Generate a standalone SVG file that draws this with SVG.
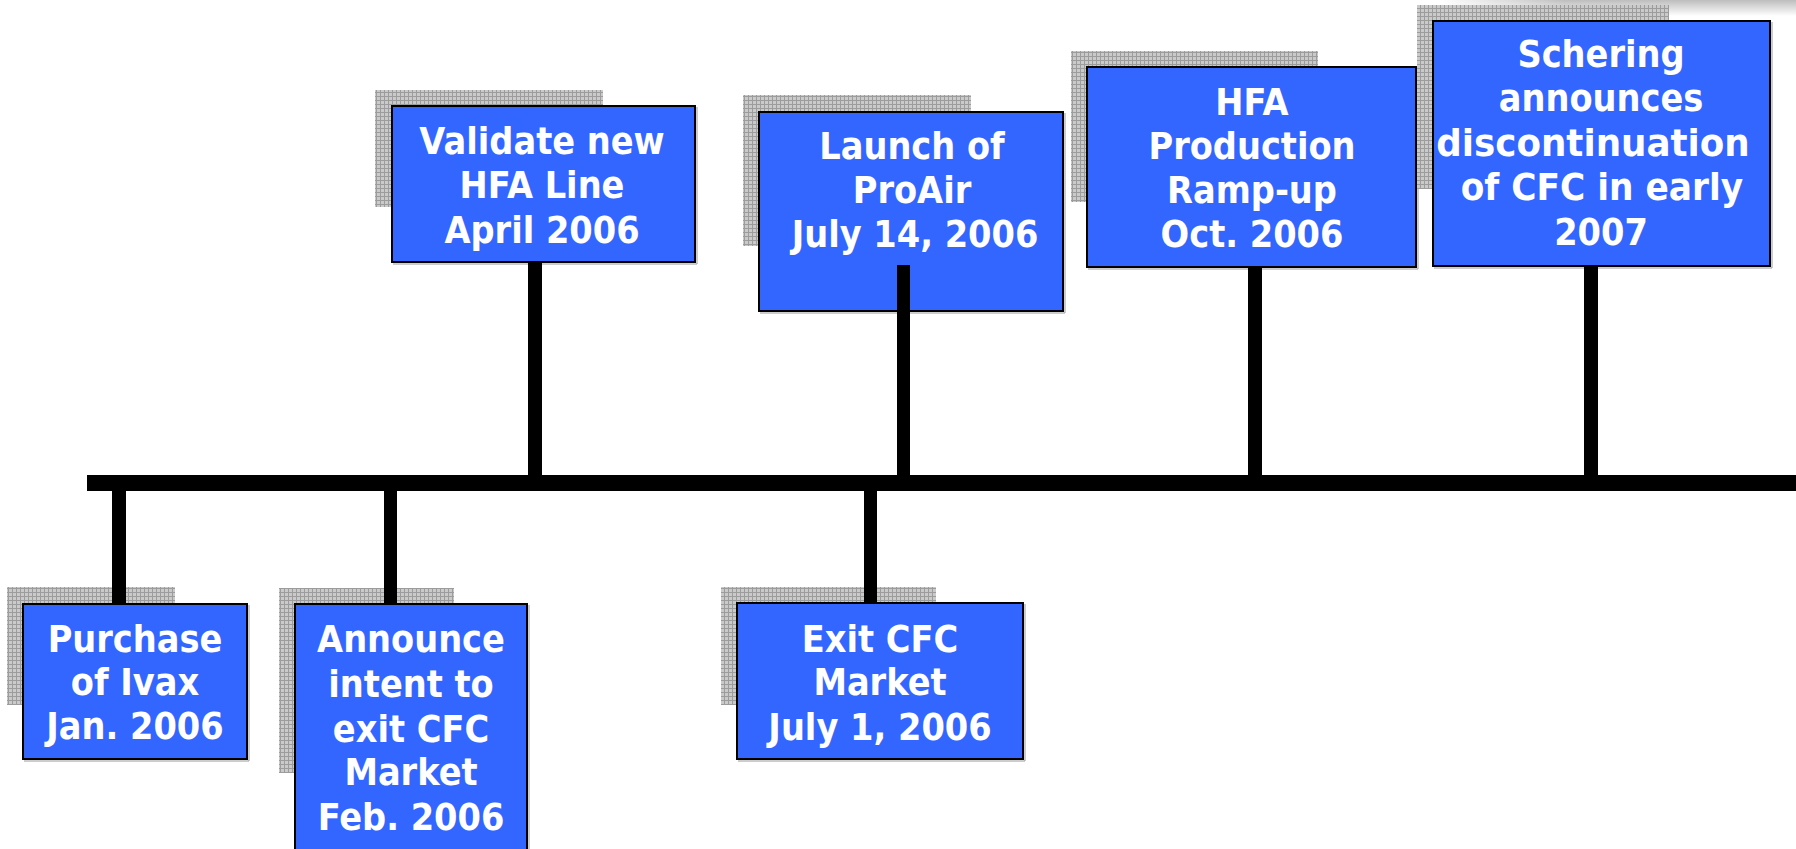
<svg xmlns="http://www.w3.org/2000/svg" width="1796" height="849" viewBox="0 0 1796 849">
  <defs>
    <pattern id="grid" x="0" y="0" width="4" height="4" patternUnits="userSpaceOnUse">
      <rect x="0" y="0" width="4" height="4" fill="#cacaca"/>
      <rect x="0" y="0" width="4" height="1" fill="#9c9c9c"/>
      <rect x="0" y="0" width="1" height="4" fill="#9c9c9c"/>
    </pattern>
    <linearGradient id="topfade" x1="0" y1="0" x2="0" y2="1">
      <stop offset="0" stop-color="#bdbdbd"/>
      <stop offset="1" stop-color="#ffffff"/>
    </linearGradient>
    <linearGradient id="leftfade" x1="0" y1="0" x2="1" y2="0">
      <stop offset="0" stop-color="#000"/>
      <stop offset="0.35" stop-color="#fff"/>
      <stop offset="1" stop-color="#fff"/>
    </linearGradient>
    <mask id="topmask" maskUnits="userSpaceOnUse" x="1440" y="0" width="356" height="16">
      <rect x="1440" y="0" width="356" height="16" fill="url(#leftfade)"/>
    </mask>
  </defs>
  <style>
    .shadow { fill: url(#grid); }
    .box { fill: #3366FF; stroke: #000; stroke-width: 2; }
    .edge { fill: none; stroke: #9a9a9a; stroke-width: 1; }
    .lbl { font-family: "DejaVu Sans", Verdana, sans-serif; font-weight: bold; font-size: 37px; fill: #fff; text-anchor: middle; }
    .bar { fill: #000; }
  </style>
  <rect width="1796" height="849" fill="#fff"/>
  <rect x="1440" y="0" width="356" height="16" fill="url(#topfade)" mask="url(#topmask)"/>

  <g id="node-validate">
    <rect class="shadow" x="375" y="90" width="228" height="117"/>
    <polyline class="edge" points="697,107 697,264 393,264"/>
    <rect class="box" x="392" y="106" width="303" height="156"/>
    <text class="lbl" transform="translate(542 154) scale(0.91 1)">Validate new</text>
    <text class="lbl" transform="translate(542 198) scale(0.91 1)">HFA Line</text>
    <text class="lbl" transform="translate(542 243) scale(0.91 1)">April 2006</text>
  </g>

  <g id="node-launch">
    <rect class="shadow" x="743" y="95" width="228" height="151"/>
    <polyline class="edge" points="1065,113 1065,313 760,313"/>
    <rect class="box" x="759" y="112" width="304" height="199"/>
    <text class="lbl" transform="translate(912 159) scale(0.91 1)">Launch of</text>
    <text class="lbl" transform="translate(912 203) scale(0.91 1)">ProAir</text>
    <text class="lbl" transform="translate(915 247) scale(0.91 1)">July 14, 2006</text>
  </g>

  <g id="node-hfa">
    <rect class="shadow" x="1071" y="51" width="247" height="151"/>
    <polyline class="edge" points="1418,68 1418,269 1088,269"/>
    <rect class="box" x="1087" y="67" width="329" height="200"/>
    <text class="lbl" transform="translate(1252 115) scale(0.91 1)">HFA</text>
    <text class="lbl" transform="translate(1252 159) scale(0.91 1)">Production</text>
    <text class="lbl" transform="translate(1252 203) scale(0.91 1)">Ramp-up</text>
    <text class="lbl" transform="translate(1252 247) scale(0.91 1)">Oct. 2006</text>
  </g>

  <g id="node-schering">
    <rect class="shadow" x="1417" y="5" width="252" height="184"/>
    <polyline class="edge" points="1772,22 1772,268 1434,268"/>
    <rect class="box" x="1433" y="21" width="337" height="245"/>
    <text class="lbl" transform="translate(1601 67) scale(0.91 1)">Schering</text>
    <text class="lbl" transform="translate(1601 111) scale(0.91 1)">announces</text>
    <text class="lbl" transform="translate(1593 156) scale(0.965 1)">discontinuation</text>
    <text class="lbl" transform="translate(1602 200) scale(0.93 1)">of CFC in early</text>
    <text class="lbl" transform="translate(1601 245) scale(0.91 1)">2007</text>
  </g>

  <g id="node-purchase">
    <rect class="shadow" x="7" y="587" width="168" height="118"/>
    <polyline class="edge" points="249,605 249,761 24,761"/>
    <rect class="box" x="23" y="604" width="224" height="155"/>
    <text class="lbl" transform="translate(135 652) scale(0.91 1)">Purchase</text>
    <text class="lbl" transform="translate(135 695) scale(0.91 1)">of Ivax</text>
    <text class="lbl" transform="translate(135 739) scale(0.91 1)">Jan. 2006</text>
  </g>

  <g id="node-announce">
    <rect class="shadow" x="279" y="588" width="175" height="185"/>
    <polyline class="edge" points="529,605 529,849"/>
    <rect class="box" x="295" y="604" width="232" height="250"/>
    <text class="lbl" transform="translate(411 652) scale(0.91 1)">Announce</text>
    <text class="lbl" transform="translate(411 697) scale(0.91 1)">intent to</text>
    <text class="lbl" transform="translate(411 742) scale(0.91 1)">exit CFC</text>
    <text class="lbl" transform="translate(411 785) scale(0.91 1)">Market</text>
    <text class="lbl" transform="translate(411 830) scale(0.91 1)">Feb. 2006</text>
  </g>

  <g id="node-exit">
    <rect class="shadow" x="721" y="587" width="215" height="118"/>
    <polyline class="edge" points="1025,604 1025,761 738,761"/>
    <rect class="box" x="737" y="603" width="286" height="156"/>
    <text class="lbl" transform="translate(880 652) scale(0.91 1)">Exit CFC</text>
    <text class="lbl" transform="translate(880 695) scale(0.91 1)">Market</text>
    <text class="lbl" transform="translate(880 740) scale(0.91 1)">July 1, 2006</text>
  </g>

  <g id="connectors">
    <rect class="bar" x="87" y="475" width="1709" height="16"/>
    <rect class="bar" x="112" y="491" width="14" height="113"/>
    <rect class="bar" x="384" y="491" width="13" height="113"/>
    <rect class="bar" x="864" y="491" width="13" height="112"/>
    <rect class="bar" x="528" y="262" width="14" height="213"/>
    <rect class="bar" x="897" y="265" width="13" height="210"/>
    <rect class="bar" x="1248" y="267" width="14" height="208"/>
    <rect class="bar" x="1584" y="266" width="14" height="209"/>
  </g>
</svg>
